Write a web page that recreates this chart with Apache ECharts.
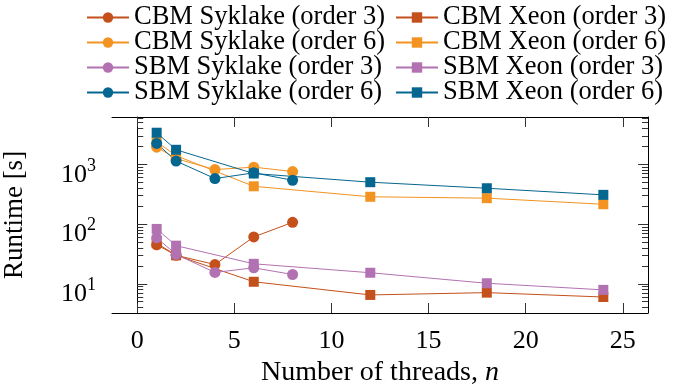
<!DOCTYPE html>
<html>
<head>
<meta charset="utf-8">
<script src="https://cdn.jsdelivr.net/npm/echarts@6/dist/echarts.min.js"></script>
<style>
html,body{margin:0;padding:0;background:#fff;}
#chart{width:673px;height:386px;}
</style>
</head>
<body>
<div id="chart"></div>
<script>
// Data
const threadsSkylake = [1, 2, 4, 6, 8];
const threadsXeon = [1, 2, 6, 12, 18, 24];
const cbmSkylake3 = [45, 30, 21, 61, 107];
const cbmXeon3 = [48, 30, 10.8, 6.5, 7.1, 6.0];
const cbmSkylake6 = [1950, 1250, 820, 900, 760];
const cbmXeon6 = [2400, 1400, 430, 287, 272, 215];
const sbmSkylake3 = [59, 31, 15.5, 18.5, 14.3];
const sbmXeon3 = [83, 43.5, 21.6, 15.3, 10.2, 7.9];
const sbmSkylake6 = [2250, 1140, 580, 723, 543];
const sbmXeon6 = [3400, 1760, 705, 504, 399, 309];
const xTicks = [0, 5, 10, 15, 20, 25];
const yMajorTicks = [10, 100, 1000];
const yMinorTicks = [4,5,6,7,8,9,20,30,40,50,60,70,80,90,200,300,400,500,600,700,800,900,2000,3000,4000,5000,6000];

const FONT = 'Liberation Serif';
const C_DORANGE = '#c4501b';
const C_ORANGE = '#f39322';
const C_PURPLE = '#b272b2';
const C_BLUE = '#05668f';

function pairs(xs, ys){ return xs.map((x,i)=>[x, ys[i]]); }

function mkSeries(name, xs, ys, color, symbol){
  return {
    name: name, type: 'line', data: pairs(xs, ys),
    xAxisIndex: 0, yAxisIndex: 0,
    symbol: symbol, symbolSize: symbol === 'circle' ? 11 : 10,
    itemStyle: {color: color},
    lineStyle: {color: color, width: 1},
    animation: false
  };
}

const yMin = Math.pow(10, 0.51), yMax = Math.pow(10, 3.795);
const tickColor = '#333';

function yAx(pos, vals, len, showLabel, showLine){
  return {
    type: 'log', position: pos, min: yMin, max: yMax, logBase: 10,
    axisLine: {show: showLine, lineStyle: {color: '#000', width: 1}},
    axisTick: {show: true, inside: true, length: len, customValues: vals, lineStyle: {color: tickColor, width: 1}},
    axisLabel: showLabel ? {
      show: true, margin: 16, customValues: yMajorTicks,
      padding: [16, 0, 0, 0],
      formatter: function(v){ return '{b|10}{s|' + Math.round(Math.log10(v)) + '}'; },
      rich: {
        b: {fontFamily: FONT, fontSize: 26, color: '#000', verticalAlign: 'bottom'},
        s: {fontFamily: FONT, fontSize: 18, color: '#000', verticalAlign: 'top', padding: [0,0,13,0]}
      }
    } : {show: false},
    splitLine: {show: false}, minorTick: {show: false},
    name: showLabel ? 'Runtime [s]' : '',
    nameLocation: 'middle', nameGap: 84, nameRotate: 90,
    nameTextStyle: {fontFamily: FONT, fontSize: 27, color: '#000'}
  };
}

const legendText = {fontFamily: FONT, fontSize: 26.5, color: '#000'};

const option = {
  backgroundColor: '#fff',
  animation: false,
  grid: {left: 112, right: 25, top: 117, bottom: 73, containLabel: false, outerBoundsMode: 'none'},
  legend: [
    {
      orient: 'vertical', left: 86, top: 4, padding: 0, itemWidth: 42, itemHeight: 13, itemGap: -2,
      textStyle: legendText,
      data: ['CBM Syklake (order 3)', 'CBM Syklake (order 6)', 'SBM Syklake (order 3)', 'SBM Syklake (order 6)']
    },
    {
      orient: 'vertical', left: 395, top: 4, padding: 0, itemWidth: 42, itemHeight: 13, itemGap: -2,
      textStyle: legendText,
      data: ['CBM Xeon (order 3)', 'CBM Xeon (order 6)', 'SBM Xeon (order 3)', 'SBM Xeon (order 6)']
    }
  ],
  xAxis: [
    {
      type: 'value', position: 'bottom', min: -1.3, max: 26.3,
      axisLine: {show: true, onZero: false, lineStyle: {color: '#000', width: 1}},
      axisTick: {show: true, inside: true, length: 10, customValues: xTicks, lineStyle: {color: tickColor}},
      axisLabel: {show: true, margin: 15, customValues: xTicks, fontFamily: FONT, fontSize: 26, color: '#000'},
      splitLine: {show: false},
      name: 'Number of threads, {i|n}', nameLocation: 'middle', nameGap: 46,
      nameTextStyle: {fontFamily: FONT, fontSize: 28, color: '#000', rich: {i: {fontFamily: FONT, fontSize: 28, fontStyle: 'italic', color: '#000'}}}
    },
    {
      type: 'value', position: 'top', min: -1.3, max: 26.3,
      axisLine: {show: true, onZero: false, lineStyle: {color: '#000', width: 1}},
      axisTick: {show: true, inside: true, length: 10, customValues: xTicks, lineStyle: {color: tickColor}},
      axisLabel: {show: false}, splitLine: {show: false}
    }
  ],
  yAxis: [
    yAx('left', yMajorTicks, 10, true, true),
    yAx('left', yMinorTicks, 6, false, false),
    yAx('right', yMajorTicks, 10, false, true),
    yAx('right', yMinorTicks, 6, false, false)
  ],
  series: [
    mkSeries('CBM Syklake (order 3)', threadsSkylake, cbmSkylake3, C_DORANGE, 'circle'),
    mkSeries('CBM Xeon (order 3)', threadsXeon, cbmXeon3, C_DORANGE, 'rect'),
    mkSeries('CBM Syklake (order 6)', threadsSkylake, cbmSkylake6, C_ORANGE, 'circle'),
    mkSeries('CBM Xeon (order 6)', threadsXeon, cbmXeon6, C_ORANGE, 'rect'),
    mkSeries('SBM Syklake (order 3)', threadsSkylake, sbmSkylake3, C_PURPLE, 'circle'),
    mkSeries('SBM Xeon (order 3)', threadsXeon, sbmXeon3, C_PURPLE, 'rect'),
    mkSeries('SBM Syklake (order 6)', threadsSkylake, sbmSkylake6, C_BLUE, 'circle'),
    mkSeries('SBM Xeon (order 6)', threadsXeon, sbmXeon6, C_BLUE, 'rect')
  ]
};

const chart = echarts.init(document.getElementById('chart'), null, {renderer: 'canvas'});
chart.setOption(option);
</script>
</body>
</html>
